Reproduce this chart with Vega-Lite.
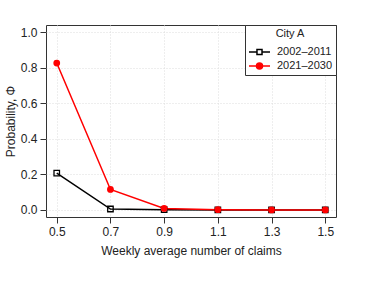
{
  "$schema": "https://vega.github.io/schema/vega-lite/v6.json",
  "width": 290,
  "height": 192,
  "autosize": "none",
  "padding": {"left": 46, "top": 25, "right": 53, "bottom": 85},
  "background": "white",
  "config": {
    "font": "Liberation Sans",
    "view": {"stroke": "#333", "strokeWidth": 1},
    "axis": {
      "domain": false,
      "grid": true,
      "gridColor": "#dddddd",
      "gridDash": [1, 2],
      "gridWidth": 1,
      "tickColor": "#333",
      "tickSize": 6,
      "labelFontSize": 12,
      "labelColor": "#222",
      "titleFontSize": 12,
      "titleFontWeight": "normal",
      "titleColor": "#222"
    }
  },
  "data": {
    "values": [
      {"claims": 0.5, "prob": 0.207, "period": "2002–2011"},
      {"claims": 0.7, "prob": 0.005, "period": "2002–2011"},
      {"claims": 0.9, "prob": 0.001, "period": "2002–2011"},
      {"claims": 1.1, "prob": 0.0, "period": "2002–2011"},
      {"claims": 1.3, "prob": 0.0, "period": "2002–2011"},
      {"claims": 1.5, "prob": 0.0, "period": "2002–2011"},
      {"claims": 0.5, "prob": 0.826, "period": "2021–2030"},
      {"claims": 0.7, "prob": 0.115, "period": "2021–2030"},
      {"claims": 0.9, "prob": 0.008, "period": "2021–2030"},
      {"claims": 1.1, "prob": 0.001, "period": "2021–2030"},
      {"claims": 1.3, "prob": 0.0, "period": "2021–2030"},
      {"claims": 1.5, "prob": 0.0, "period": "2021–2030"}
    ]
  },
  "encoding": {
    "x": {
      "field": "claims",
      "type": "quantitative",
      "scale": {"domain": [0.46, 1.54], "nice": false, "zero": false},
      "axis": {"values": [0.5, 0.7, 0.9, 1.1, 1.3, 1.5], "format": ".1f", "title": "Weekly average number of claims", "labelPadding": 3, "titlePadding": 8}
    },
    "y": {
      "field": "prob",
      "type": "quantitative",
      "scale": {"domain": [-0.04, 1.04], "nice": false, "zero": false},
      "axis": {"values": [0, 0.2, 0.4, 0.6, 0.8, 1.0], "format": ".1f", "title": "Probability,  Φ", "labelPadding": 3, "titlePadding": 3}
    },
    "color": {
      "field": "period",
      "type": "nominal",
      "scale": {"domain": ["2002–2011", "2021–2030"], "range": ["black", "red"]},
      "legend": {
        "title": "City A",
        "orient": "top-right",
        "offset": 0,
        "fillColor": "white",
        "strokeColor": "#333",
        "padding": 3,
        "titleFontSize": 11,
        "titleFontWeight": "normal",
        "titleColor": "#222",
        "titleAnchor": "middle",
        "titleAlign": "center",
        "titlePadding": 6,
        "labelFontSize": 11,
        "labelColor": "#222",
        "labelOffset": 15,
        "rowPadding": 1,
        "symbolSize": 144,
        "symbolStrokeWidth": 1.5,
        "encode": {
          "symbols": {
            "update": {
              "shape": {"signal": "datum.value == '2002–2011' ? 'M-1,0H0.33M1.17,0H2.5M0.33,-0.42H1.17V0.42H0.33Z' : 'M-1,0H2.5M0.25,0A0.5,0.5,0,1,1,1.25,0A0.5,0.5,0,1,1,0.25,0Z'"},
              "fill": {"signal": "datum.value == '2002–2011' ? 'white' : 'red'"},
              "stroke": {"signal": "datum.value == '2002–2011' ? 'black' : 'red'"},
              "strokeWidth": {"value": 1.5}
            }
          }
        }
      }
    }
  },
  "layer": [
    {"mark": {"type": "line", "strokeWidth": 1.5}},
    {
      "mark": {"type": "point", "size": 30, "strokeWidth": 1.3, "opacity": 1},
      "encoding": {
        "shape": {
          "condition": {"test": "datum.period == '2021–2030'", "value": "circle"},
          "value": "square"
        },
        "fill": {
          "condition": {"test": "datum.period == '2021–2030'", "value": "red"},
          "value": "transparent"
        }
      }
    }
  ]
}
